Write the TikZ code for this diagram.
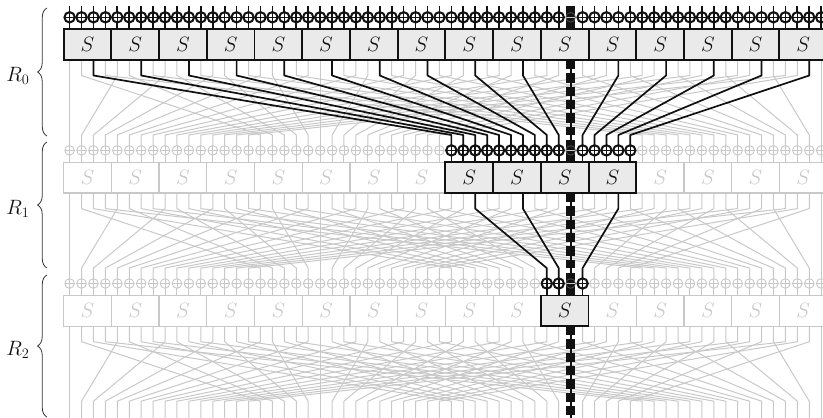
\documentclass[tikz,border=0pt]{standalone}
\usepackage{xcolor}
\definecolor{netGrey}{HTML}{C8C8C8}
\definecolor{netDark}{HTML}{111111}
\definecolor{netLight}{HTML}{EAEAEA}
\usepackage{tikz}
\usetikzlibrary{calc, decorations.pathreplacing}

\begin{document}
\begin{tikzpicture}[
    x=1pt, y=-1pt,
    sboxgrey/.style={draw=netGrey, fill=white, rectangle, line width=1.2pt, inner sep=0pt, outer sep=0pt, minimum width=47.7pt, minimum height=30.6pt, text=netGrey, font=\fontsize{20.74}{24}\selectfont},
    sboxdark/.style={draw=netDark, fill=netLight, rectangle, line width=1.9pt, inner sep=0pt, outer sep=0pt, minimum width=47.7pt, minimum height=30.6pt, text=netDark, font=\fontsize{20.74}{24}\selectfont},
    xorgrey/.style={draw=netGrey, circle, line width=0.9pt, inner sep=0pt, outer sep=0pt, minimum size=9.6pt, path picture={\draw[netGrey, line width=0.9pt] (path picture bounding box.north) -- (path picture bounding box.south) (path picture bounding box.west) -- (path picture bounding box.east);}},
    xormid/.style={draw=netGrey!40!netDark, circle, line width=0.6pt, inner sep=0pt, outer sep=0pt, minimum size=9.6pt, path picture={\draw[netGrey, line width=0.9pt] (path picture bounding box.west) -- (path picture bounding box.east);}},
    xordark/.style={draw=netDark, circle, line width=2pt, inner sep=0pt, outer sep=0pt, minimum size=10.4pt, path picture={\draw[netDark, line width=1.6pt] (path picture bounding box.north) -- (path picture bounding box.south) (path picture bounding box.west) -- (path picture bounding box.east);}},
    greywire/.style={draw=netGrey, line width=1pt},
    darkwire/.style={draw=netDark, line width=1.7pt},
    fatwire/.style={draw=netDark, line width=8.4pt},
    fatdash/.style={draw=netDark, line width=8.4pt, dash pattern=on 9.3pt off 4.03pt},
    roundbrace/.style={draw=netDark!85!white, line width=0.8pt, decorate, decoration={brace, amplitude=9.5pt}},
    roundlabel/.style={font=\fontsize{20.74}{24}\selectfont, text=netDark, inner sep=0pt}
]
\useasboundingbox (0,0) rectangle (823,418);
\clip (0,0) rectangle (823,418);

% Grey network: 3 rounds of 16 boxes
\foreach \r in {0,1,2} {
    \pgfmathsetmacro{\yr}{133.1*\r}
    \foreach \k in {0,...,15} {
        \pgfmathsetmacro{\xk}{69.6+11.93*(4*\k+1.5)}
        \node (sboxg-\r-\k) [sboxgrey] at (\xk, 44.6+\yr) {$S$};
    }
    \foreach \i in {0,...,63} {
        \pgfmathsetmacro{\xb}{69.6+11.93*\i}
        \node (xorg-\r-\i) [xorgrey] at (\xb, 17.3+\yr) {};
        \coordinate (ka-\r-\i) at (\xb, 75.5+\yr);
        \coordinate (kb-\r-\i) at (\xb, 135+\yr);
    }
}
\foreach \i in {0,...,63} {
    \pgfmathsetmacro{\xb}{69.6+11.93*\i}
    \coordinate (top-\i) at (\xb, 6);
    \coordinate (xorg-3-\i) at (\xb, 418);
}

\foreach \r in {0,1,2} {
    \pgfmathtruncatemacro{\rn}{\r+1}
    \foreach \i in {0,...,63} {
        \pgfmathtruncatemacro{\k}{int(\i/4)}
        \pgfmathtruncatemacro{\dest}{\i==63 ? 63 : mod(16*\i,63)}
        \draw [greywire] (xorg-\r-\i) -- (xorg-\r-\i |- sboxg-\r-\k.north);
        \draw [greywire] (xorg-\r-\i |- sboxg-\r-\k.south) -- (ka-\r-\i) -- (kb-\r-\dest) -- (xorg-\rn-\dest);
    }
}

% Thick path of bit 42
\draw [darkwire] (top-42) -- (xorg-3-42);
\draw [fatwire] (top-42) -- (xorg-0-42 |- sboxg-0-10.north);
\foreach \r in {0,1,2} {
    \pgfmathtruncatemacro{\rn}{\r+1}
    \ifnum\r<2
        \draw [fatdash] (xorg-\r-42 |- sboxg-\r-10.south) -- (kb-\r-42);
        \coordinate (fatstart-\rn) at ($(kb-\r-42)+(0,5)$);
        \draw [fatwire] (fatstart-\rn) -- (xorg-\rn-42 |- sboxg-\rn-10.north);
    \else
        \draw [fatdash] (xorg-\r-42 |- sboxg-\r-10.south) -- (xorg-3-42);
    \fi
    \node (xorm-\r) [xormid] at (xorg-\r-42) {};
}

% Active part on top
\foreach \r/\klist in {0/{0,...,15}, 1/{8,...,11}, 2/{10}} {
    \foreach \k in \klist {
        \node (sboxd-\r-\k) [sboxdark] at (sboxg-\r-\k) {$S$};
    }
}
\foreach \r/\xlist in {0/{0,...,41,43,44,...,63}, 1/{32,...,41,43,44,...,47}, 2/{40,41,43}} {
    \foreach \i in \xlist {
        \pgfmathtruncatemacro{\k}{int(\i/4)}
        \node (xord-\r-\i) [xordark] at (xorg-\r-\i) {};
        \draw [darkwire] (xord-\r-\i) -- (xord-\r-\i |- sboxd-\r-\k.north);
    }
}
\foreach \i in {0,...,41,43,44,...,63} {
    \draw [darkwire] (top-\i) -- (xord-0-\i);
}
\foreach \r/\blist in {0/{2,6,...,38,46,50,...,62}, 1/{34,38,46}} {
    \pgfmathtruncatemacro{\rn}{\r+1}
    \foreach \i in \blist {
        \pgfmathtruncatemacro{\k}{int(\i/4)}
        \pgfmathtruncatemacro{\dest}{mod(16*\i,63)}
        \draw [darkwire, line join=round] (xorg-\r-\i |- sboxd-\r-\k.south) -- (ka-\r-\i) -- (kb-\r-\dest) -- (xord-\rn-\dest);
    }
}

% Round braces and their labels
\foreach \r/\ytop/\ybot in {0/8/136, 1/142/268, 2/275/417} {
    \coordinate (bracetop-\r) at (47, \ytop);
    \coordinate (bracebot-\r) at (47, \ybot);
    \draw [roundbrace] (bracebot-\r) -- (bracetop-\r);
    \node (round-\r) [roundlabel] at ($(bracetop-\r)!0.5!(bracebot-\r)+(-29,4)$) {$R_{\r}$};
}

\end{tikzpicture}
\end{document}
